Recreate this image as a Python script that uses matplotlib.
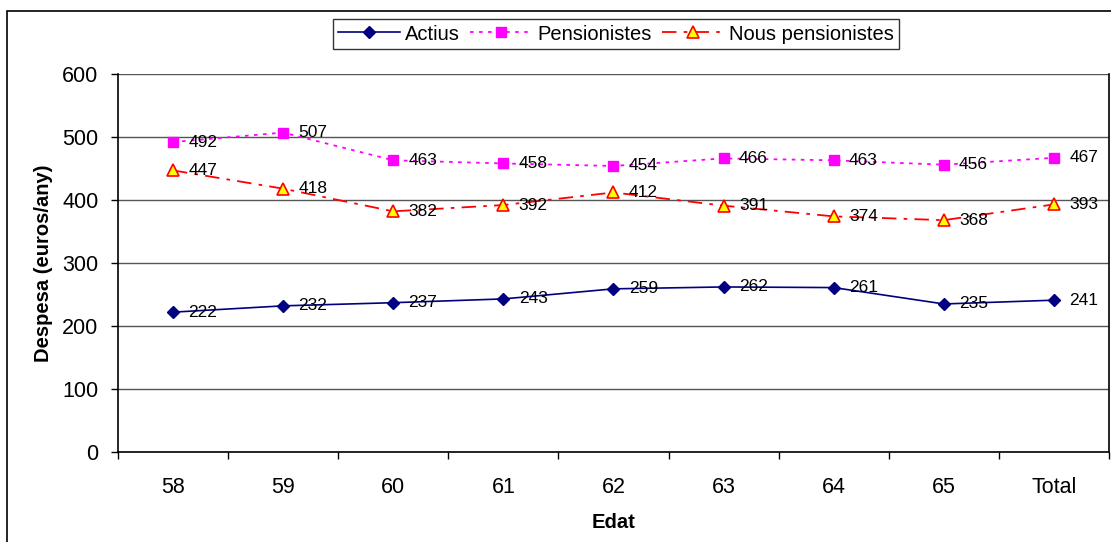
import matplotlib.pyplot as plt
import matplotlib.patches as mpatches
import numpy as np

plt.rcParams['font.family'] = ['Liberation Sans', 'DejaVu Sans']

edats = ['58', '59', '60', '61', '62', '63', '64', '65', 'Total']
actius = [222, 232, 237, 243, 259, 262, 261, 235, 241]
pensionistes = [492, 507, 463, 458, 454, 466, 463, 456, 467]
nous_pensionistes = [447, 418, 382, 392, 412, 391, 374, 368, 393]

fig = plt.figure(figsize=(11.11, 5.42), dpi=100)
ax = fig.add_axes([0.1062, 0.166, 0.892, 0.6975])

# marc exterior del grafic
fig.patches.append(mpatches.Rectangle((7 / 1111, -0.05), 1.2, 1 - 11 / 542 + 0.05,
                                      transform=fig.transFigure, fill=False,
                                      edgecolor='black', linewidth=1.2))

x = np.arange(len(edats))
ax.plot(x, actius, color='#000080', linestyle='-', linewidth=1.2,
        marker='D', markersize=6.5, markerfacecolor='#000080', markeredgecolor='#000080',
        label='Actius', zorder=3)
ax.plot(x, pensionistes, color='#ff00ff', linestyle=(0, (2, 3)), linewidth=1.3,
        marker='s', markersize=7, markerfacecolor='#ff00ff', markeredgecolor='#ff00ff',
        label='Pensionistes', zorder=3)
ax.plot(x, nous_pensionistes, color='#ff0000', linestyle=(0, (8, 4, 2, 4)), linewidth=1.3,
        marker='^', markersize=8, markerfacecolor='#ffff00', markeredgecolor='#ff0000',
        markeredgewidth=1.2, label='Nous pensionistes', zorder=3)

for serie in (actius, pensionistes, nous_pensionistes):
    for xi, v in zip(x, serie):
        ax.annotate(str(v), (xi, v), xytext=(11, 0), textcoords='offset points',
                    ha='left', va='center', fontsize=12.5, zorder=4)

ax.set_xlim(-0.5, len(edats) - 0.5)
ax.set_ylim(0, 600)
ax.set_yticks(np.arange(0, 601, 100))
ax.set_xticks(x)
ax.set_xticklabels(edats)
ax.set_xticks(np.arange(-0.5, len(edats)), minor=True)
ax.tick_params(axis='x', which='major', length=0, labelsize=15.5, pad=18)
ax.tick_params(axis='x', which='minor', length=5, direction='out', width=1)
ax.tick_params(axis='y', length=5, direction='out', width=1, labelsize=15.5, pad=9)
ax.yaxis.grid(True, color='#555555', linewidth=1)
ax.set_axisbelow(True)
for s in ax.spines.values():
    s.set_linewidth(1.2)
ax.spines['top'].set_visible(False)

ax.set_xlabel('Edat', fontsize=14.5, fontweight='bold', labelpad=11)
ax.set_ylabel('Despesa (euros/any)', fontsize=14.5, fontweight='bold', labelpad=7)

leg = fig.legend(loc='center', bbox_to_anchor=(616 / 1111, 1 - 34 / 542), ncol=3,
                 fontsize=14.5, frameon=True, fancybox=False, shadow=False,
                 handlelength=3.1, handletextpad=0.25, columnspacing=0.5,
                 borderpad=0.25, borderaxespad=0)
leg.get_frame().set_edgecolor('black')
leg.get_frame().set_linewidth(1)

plt.savefig('out.png', dpi=100)
plt.close()
